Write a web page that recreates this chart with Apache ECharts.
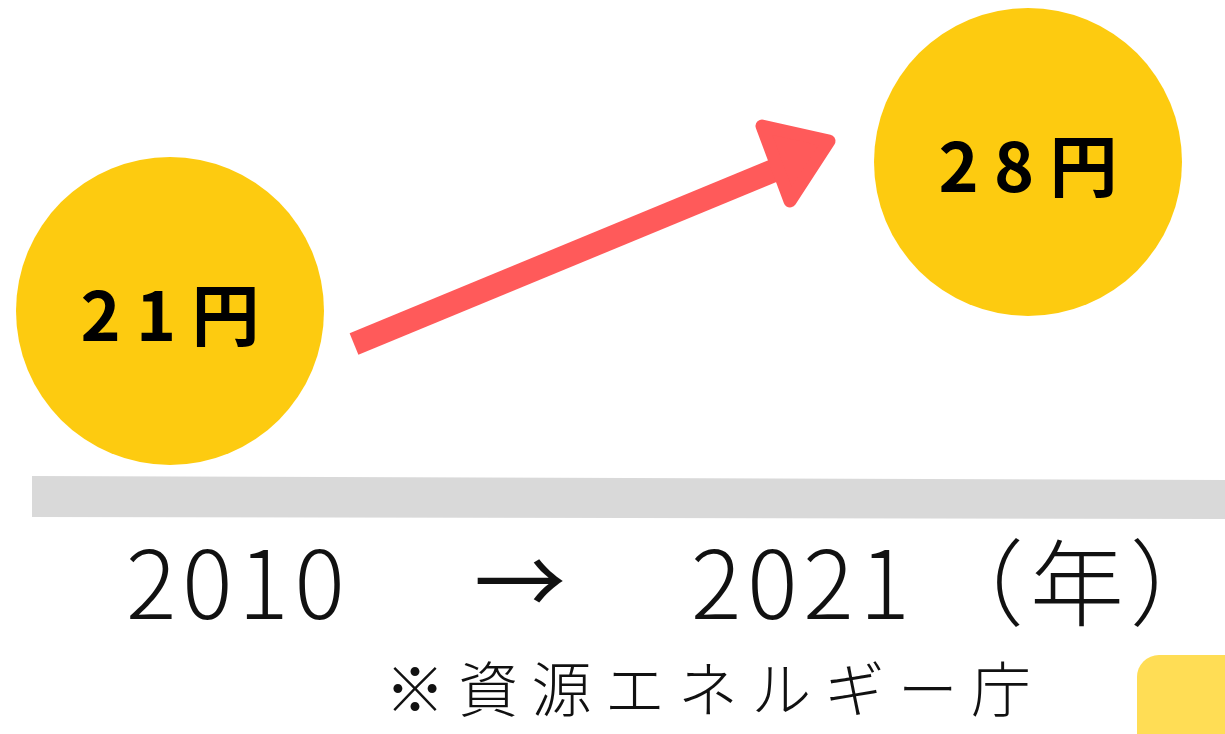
<!DOCTYPE html>
<html>
<head>
<meta charset="utf-8">
<script src="https://cdn.jsdelivr.net/npm/echarts@6/dist/echarts.min.js"></script>
<style>
html,body{margin:0;padding:0;background:#fff;}
#main{width:1225px;height:734px;}
</style>
</head>
<body>
<div id="main"></div>
<script>
// ---- data ----
var years = ['2010', '2021'];
var prices = [21, 28];
var unit = '円';
var yearUnit = '（年）';
var sourceText = '※資源エネルギー庁';

// ---- styles ----
var CIRCLE = '#FDCB10';
var ARROW = '#FF5A5A';
var BAR = '#D9D9D9';
var FONT = '"Noto Sans CJK JP", "Noto Sans", sans-serif';

function spaced(s, sep) { return s.split('').join(sep); }

var chart = echarts.init(document.getElementById('main'), null, {renderer: 'canvas'});

var seriesData = prices.map(function (v, i) { return [years[i], v]; });

var option = {
  animation: false,
  backgroundColor: '#ffffff',
  grid: {left: 170, right: 197, top: 13, bottom: 274},
  xAxis: {
    type: 'category', data: years, boundaryGap: false,
    axisLine: {show: false}, axisTick: {show: false}, axisLabel: {show: false}, splitLine: {show: false}
  },
  yAxis: {
    type: 'value', min: 14, max: 35,
    axisLine: {show: false}, axisTick: {show: false}, axisLabel: {show: false}, splitLine: {show: false}
  },
  graphic: [
    // gray baseline bar
    {type: 'polygon', z: 1, shape: {points: [[32, 476], [1225, 480], [1225, 519], [32, 517]]}, style: {fill: BAR}},
    // arrow shaft
    {type: 'line', z: 5, shape: {x1: 354, y1: 344, x2: 792, y2: 163}, style: {stroke: ARROW, lineWidth: 23, lineCap: 'butt'}},
    // arrow head
    {type: 'polygon', z: 5, shape: {points: [[762, 126], [829, 141], [790, 201]]}, style: {fill: ARROW, stroke: ARROW, lineWidth: 13, lineJoin: 'round'}},
    // bottom year labels
    {type: 'text', z: 10, left: 126, top: 536, style: {text: spaced(years[0], '\u200A'), font: '300 94px ' + FONT, fill: '#111'}},
    {type: 'text', z: 10, left: 474, top: 535, style: {text: '→', font: '400 92px ' + FONT, fill: '#111'}},
    {type: 'text', z: 10, left: 691, top: 536, style: {text: spaced(years[1], '\u200A'), font: '300 94px ' + FONT, fill: '#111'}},
    {type: 'text', z: 10, left: 930, top: 536, style: {text: spaced(yearUnit, '\u200A'), font: '300 94px ' + FONT, fill: '#111'}},
    // source note
    {type: 'text', z: 10, left: 385, top: 659, style: {text: spaced(sourceText, ' '), font: '300 60px ' + FONT, fill: '#111'}},
    // decorative yellow rounded rect
    {type: 'rect', z: 1, shape: {x: 1137, y: 655, width: 140, height: 140, r: 22}, style: {fill: '#FFDD55'}}
  ],
  series: [{
    type: 'scatter',
    z: 3,
    data: seriesData,
    symbol: 'circle',
    symbolSize: 308,
    itemStyle: {color: CIRCLE, opacity: 1},
    label: {
      show: true,
      position: 'inside',
      offset: [0, 4],
      formatter: function (p) { return spaced(String(p.value[1]) + unit, ' '); },
      fontFamily: FONT,
      fontWeight: 'bold',
      fontSize: 68,
      color: '#000'
    },
    emphasis: {disabled: true}
  }]
};
chart.setOption(option);
</script>
</body>
</html>
